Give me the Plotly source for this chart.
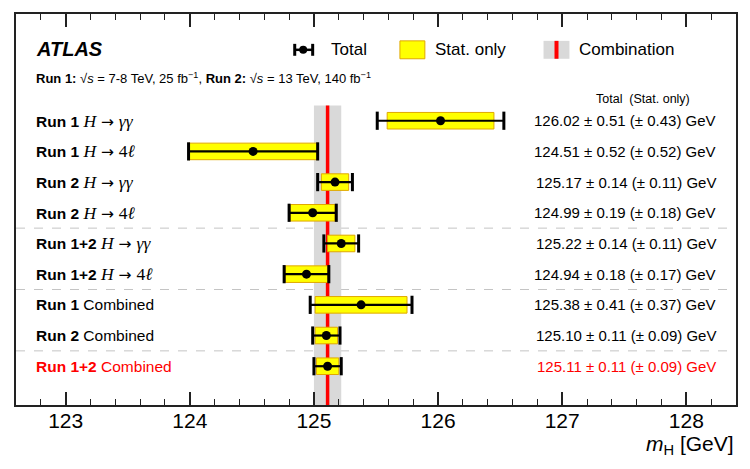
import plotly.graph_objects as go

# ---------------- data ----------------
run_labels = ["Run 1", "Run 1", "Run 2", "Run 2", "Run 1+2", "Run 1+2", "Run 1", "Run 2", "Run 1+2"]
channels = ["gg", "4l", "gg", "4l", "gg", "4l", "comb", "comb", "comb"]
mass = [126.02, 124.51, 125.17, 124.99, 125.22, 124.94, 125.38, 125.10, 125.11]
tot_err = [0.51, 0.52, 0.14, 0.19, 0.14, 0.18, 0.41, 0.11, 0.11]
stat_err = [0.43, 0.52, 0.11, 0.18, 0.11, 0.17, 0.37, 0.09, 0.09]
rows = [9, 8, 7, 6, 5, 4, 3, 2, 1]
separators = [5.5, 3.5, 1.5]
comb_mass = 125.11
comb_err = 0.11
x_ticks = [123, 124, 125, 126, 127, 128]

# ---------------- geometry helpers ----------------
L, T, R, B = 16, 12, 738, 405
W, H = 750, 469
def xp(px):
    return (px - L) / (R - L)
def yp(py):
    return (B - py) / (B - T)

FONT = "Liberation Sans"
SERIF = "Liberation Serif"
RED = "#ff0000"
YEL = "#ffff00"
YEL_EDGE = "#e0a800"

fig = go.Figure()

# stat-only boxes
fig.add_trace(go.Bar(
    orientation="h",
    y=rows,
    x=[2 * s for s in stat_err],
    base=[m - s for m, s in zip(mass, stat_err)],
    width=0.54,
    marker=dict(color=YEL, line=dict(color=YEL_EDGE, width=1)),
    showlegend=False, hoverinfo="skip",
))

# total error bars (line only)
fig.add_trace(go.Scatter(
    x=mass, y=rows, mode="markers",
    marker=dict(color="black", size=1, opacity=0),
    error_x=dict(type="data", array=tot_err, symmetric=True,
                 color="black", thickness=2.2, width=0),
    showlegend=False, hoverinfo="skip",
))
# caps
cap_x = [m - t for m, t in zip(mass, tot_err)] + [m + t for m, t in zip(mass, tot_err)]
fig.add_trace(go.Scatter(
    x=cap_x, y=rows + rows, mode="markers",
    marker=dict(symbol="line-ns", size=13, line=dict(color="black", width=3)),
    showlegend=False, hoverinfo="skip",
))
# central points
fig.add_trace(go.Scatter(
    x=mass, y=rows, mode="markers",
    marker=dict(color="black", size=9),
    showlegend=False, hoverinfo="skip",
))

shapes = []
# combination band and line (below traces)
shapes.append(dict(type="rect", xref="x", yref="y", layer="below",
                   x0=comb_mass - comb_err, x1=comb_mass + comb_err,
                   y0=-0.264, y1=9.5, fillcolor="#d9d9d9", line=dict(width=0)))
shapes.append(dict(type="line", xref="x", yref="y", layer="below",
                   x0=comb_mass, x1=comb_mass, y0=-0.264, y1=9.5,
                   line=dict(color=RED, width=3.5)))
# separators
for s in separators:
    shapes.append(dict(type="line", xref="paper", yref="y", layer="below",
                       x0=0, x1=1, y0=s, y1=s,
                       line=dict(color="#c4c4c4", width=1, dash="dash")))

# legend glyphs
ly = 48
shapes += [
    dict(type="line", xref="paper", yref="paper", x0=xp(295), x1=xp(314), y0=yp(ly), y1=yp(ly),
         line=dict(color="black", width=2.5)),
    dict(type="line", xref="paper", yref="paper", x0=xp(295.5), x1=xp(295.5), y0=yp(ly - 6), y1=yp(ly + 6),
         line=dict(color="black", width=3)),
    dict(type="line", xref="paper", yref="paper", x0=xp(313.5), x1=xp(313.5), y0=yp(ly - 6), y1=yp(ly + 6),
         line=dict(color="black", width=3)),
    dict(type="circle", xref="paper", yref="paper", x0=xp(300), x1=xp(308), y0=yp(ly - 4), y1=yp(ly + 4),
         fillcolor="black", line=dict(width=0)),
    dict(type="rect", xref="paper", yref="paper", x0=xp(401), x1=xp(426), y0=yp(39), y1=yp(57),
         fillcolor=YEL, line=dict(color=YEL_EDGE, width=1)),
    dict(type="rect", xref="paper", yref="paper", x0=xp(545), x1=xp(571), y0=yp(39), y1=yp(57),
         fillcolor="#d9d9d9", line=dict(width=0)),
    dict(type="line", xref="paper", yref="paper", x0=xp(558), x1=xp(558), y0=yp(39), y1=yp(57),
         line=dict(color=RED, width=4)),
]

ann = []
def add_text(text, px, py, size, anchor="left", color="black", yref="paper", yval=None):
    ann.append(dict(text=text, xref="paper", x=xp(px), xanchor=anchor,
                    yref=yref, y=(yp(py) if yval is None else yval), yanchor="middle",
                    showarrow=False, font=dict(family=FONT, size=size, color=color)))

add_text("<b><i>ATLAS</i></b>", 34, 47, 20)
add_text("Total", 330, ly, 17)
add_text("Stat. only", 434, ly, 17)
add_text("Combination", 579, ly, 17)
add_text("<b>Run 1:</b> √<i>s</i> = 7-8 TeV, 25 fb<sup>−1</sup>, <b>Run 2:</b> √<i>s</i> = 13 TeV, 140 fb<sup>−1</sup>",
         34, 76, 13)
add_text("Total  (Stat. only)", 596, 97, 12.5)

def serif(s):
    return f"<span style='font-family:{SERIF};font-size:17.5px'>{s}</span>"
ARROW = "<span style='font-family:DejaVu Sans;font-size:15.5px'> → </span>"
ch_text = {
    "gg": serif("<i>H</i>") + ARROW + serif("<i>γγ</i>"),
    "4l": serif("<i>H</i>") + ARROW + serif("4<i>ℓ</i>"),
    "comb": "Combined",
}
for i, (r, c, m, t, s, yv) in enumerate(zip(run_labels, channels, mass, tot_err, stat_err, rows)):
    col = RED if i == len(rows) - 1 else "black"
    add_text(f"<b>{r}</b> {ch_text[c]}", 34, 0, 15.5, color=col, yref="y", yval=yv)
    add_text(f"{m:.2f} ± {t:.2f} (± {s:.2f}) GeV", 720, 0, 15, anchor="right", color=col, yref="y", yval=yv)

ann.append(dict(text="<i>m</i><sub>H</sub> [GeV]", xref="paper", x=xp(738), xanchor="right",
                yref="paper", y=yp(445), yanchor="middle", showarrow=False,
                font=dict(family=FONT, size=21, color="black")))

fig.update_layout(
    width=W, height=H,
    margin=dict(l=L, r=W - R, t=T, b=H - B),
    paper_bgcolor="white", plot_bgcolor="white",
    shapes=shapes, annotations=ann,
    font=dict(family=FONT, color="black"),
    showlegend=False,
    xaxis=dict(range=[122.6, 128.4], tickmode="array", tickvals=x_ticks,
               ticks="inside", ticklen=13, tickwidth=1.5, tickcolor="#222",
               minor=dict(dtick=0.2, tick0=123, ticks="inside", ticklen=6, tickwidth=1.2, tickcolor="#222"),
               showline=True, linecolor="#222", linewidth=1.5, mirror="ticks",
               showgrid=False, zeroline=False, ticklabelstandoff=-4,
               tickfont=dict(family=FONT, size=21, color="black")),
    yaxis=dict(range=[-0.264, 12.478], showticklabels=False, ticks="",
               showline=True, linecolor="#222", linewidth=1.5, mirror=True,
               showgrid=False, zeroline=False),
)

fig.write_html("out.html")
